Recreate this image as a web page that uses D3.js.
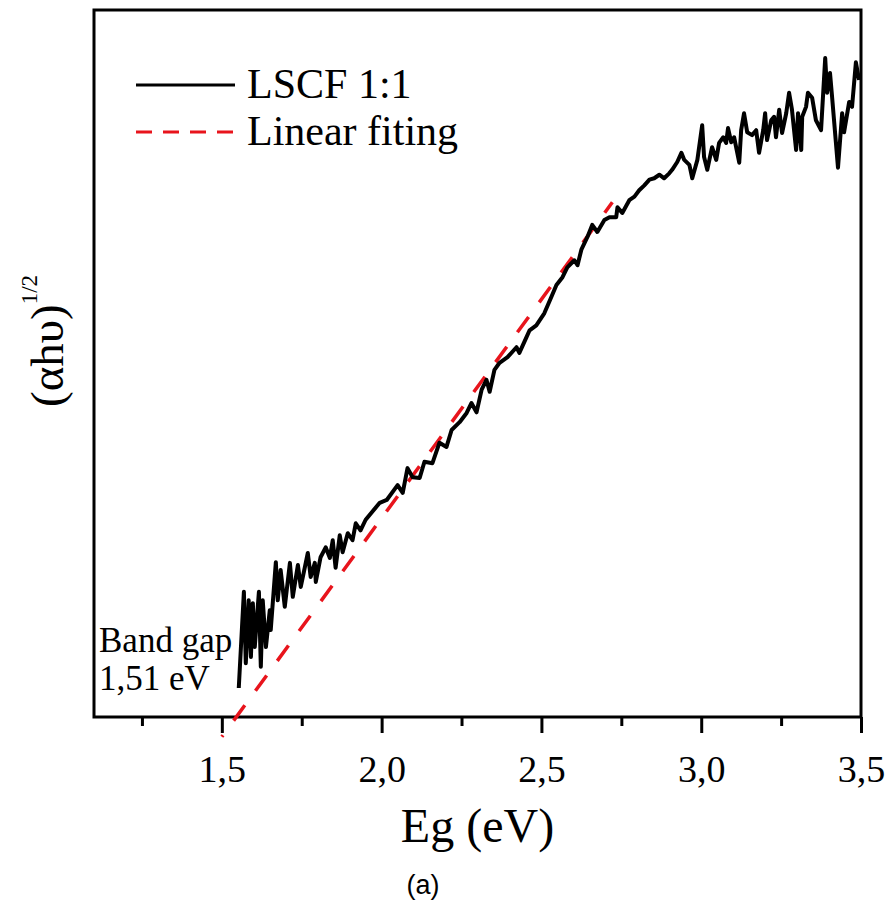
<!DOCTYPE html>
<html>
<head>
<meta charset="utf-8">
<script src="https://cdn.jsdelivr.net/npm/d3@7"></script>
<style>
  body { margin: 0; background: #fff; }
  text { font-family: "Liberation Serif", "Times New Roman", serif; fill: #000; }
</style>
</head>
<body>
<div id="chart"></div>
<script>
// photon energy (eV)
const eg = [1.553, 1.569, 1.575, 1.584, 1.591, 1.597, 1.603, 1.616, 1.622, 1.628,
  1.638, 1.650, 1.653, 1.669, 1.675, 1.684, 1.697, 1.713, 1.722, 1.738,
  1.747, 1.769, 1.778, 1.791, 1.794, 1.809, 1.825, 1.838, 1.847, 1.856,
  1.869, 1.878, 1.894, 1.909, 1.919, 1.934, 1.950,
  1.994, 2.016, 2.050, 2.066, 2.081, 2.097, 2.119, 2.134, 2.159, 2.181,
  2.203, 2.219, 2.244, 2.266, 2.281, 2.297, 2.313, 2.328, 2.338, 2.353,
  2.369, 2.394, 2.422, 2.431, 2.453,
  2.463, 2.484, 2.509, 2.531, 2.547, 2.566, 2.581, 2.603, 2.613, 2.625,
  2.644, 2.659, 2.675, 2.697, 2.713, 2.734, 2.738, 2.753, 2.775, 2.791,
  2.806, 2.822, 2.838, 2.853, 2.869, 2.884, 2.900,
  2.909, 2.925, 2.938, 2.947, 2.963, 2.972, 2.988, 3.003, 3.009, 3.019,
  3.034, 3.047, 3.056, 3.069, 3.078, 3.084, 3.094, 3.103, 3.119, 3.125,
  3.134, 3.144, 3.159, 3.172,
  3.181, 3.194, 3.200, 3.206, 3.219, 3.228, 3.234, 3.244, 3.253, 3.266,
  3.275, 3.284, 3.297, 3.303, 3.313, 3.316, 3.328, 3.334, 3.347, 3.359,
  3.375, 3.388, 3.394, 3.403, 3.409, 3.428, 3.441, 3.447, 3.463, 3.472,
  3.484, 3.494];

// (alpha h nu)^1/2, arbitrary units
const ahv = [4.1, 17.7, 7.6, 16.5, 8.5, 16.1, 9.9, 17.7, 7.1, 16.5,
  9.9, 15.1, 12.3, 21.9, 16.5, 20.8, 15.6, 21.8, 17.0, 21.5,
  18.4, 23.2, 19.8, 21.8, 19.1, 22.6, 24.0, 22.5, 25.0, 21.1,
  25.7, 23.3, 26.0, 25.0, 27.4, 26.4, 27.9,
  30.3, 30.7, 32.8, 31.7, 35.2, 33.9, 33.8, 36.1, 35.9, 38.8,
  38.2, 40.6, 41.7, 43.0, 44.4, 43.1, 46.3, 47.7, 46.0, 49.1,
  50.1, 50.9, 52.3, 51.5, 53.7,
  54.7, 55.4, 57.1, 59.4, 61.1, 62.2, 63.6, 64.6, 63.9, 66.1,
  67.9, 69.6, 68.6, 70.3, 70.7, 70.7, 72.1, 71.3, 73.1, 73.6,
  74.5, 75.2, 76.0, 76.2, 76.7, 76.2, 76.9,
  77.4, 78.5, 79.8, 78.8, 78.1, 76.2, 78.8, 83.7, 79.2, 77.4,
  80.6, 78.8, 81.2, 82.0, 81.2, 83.3, 81.3, 82.0, 78.4, 83.0,
  85.4, 82.7, 82.3, 83.0,
  79.8, 83.0, 85.4, 81.6, 84.4, 84.9, 82.0, 85.9, 82.6, 85.4,
  88.3, 85.9, 80.2, 85.4, 80.2, 84.9, 86.3, 88.3, 87.6, 84.4,
  83.0, 93.2, 88.3, 91.1, 88.0, 77.7, 85.4, 82.7, 87.0, 86.3,
  92.6, 90.1];

// linear fit end points
const fitEg = [1.50, 2.722];
const fitY = [-2.8, 72.8];

const majorTicks = [1.5, 2.0, 2.5, 3.0, 3.5];
const minorTicks = [1.25, 1.75, 2.25, 2.75, 3.25];

const seriesNames = ["LSCF 1:1", "Linear fiting"];
const gapLabel = ["Band gap", "1,51 eV"];

const width = 890, height = 907;
const plot = {left: 94, right: 861, top: 10, bottom: 717};

const x = d3.scaleLinear().domain([1.1, 3.5]).range([plot.left, plot.right]);
const y = d3.scaleLinear().domain([0, 100]).range([plot.bottom, plot.top]);

const svg = d3.select("#chart").append("svg")
    .attr("width", width)
    .attr("height", height);

// frame
svg.append("rect")
    .attr("x", plot.left).attr("y", plot.top)
    .attr("width", plot.right - plot.left)
    .attr("height", plot.bottom - plot.top)
    .style("fill", "none")
    .style("stroke", "#000")
    .style("stroke-width", 3);

// minor ticks
const minorAxis = svg.append("g")
    .attr("transform", "translate(0," + plot.bottom + ")")
    .call(d3.axisBottom(x).tickValues(minorTicks).tickSize(9).tickFormat(""));

// major ticks + labels
const xAxis = svg.append("g")
    .attr("transform", "translate(0," + plot.bottom + ")")
    .call(d3.axisBottom(x).tickValues(majorTicks).tickSize(16).tickPadding(22)
      .tickFormat(d => d3.format(".1f")(d).replace(".", ",")));

[minorAxis, xAxis].forEach(a => {
  a.select(".domain").remove();
  a.selectAll("line").style("stroke", "#000").style("stroke-width", 3);
});
xAxis.selectAll("text")
    .style("font-family", "'Liberation Serif', 'Times New Roman', serif")
    .style("font-size", "38px")
    .attr("dy", "0.71em");

// axis titles
svg.append("text")
    .attr("x", (plot.left + plot.right) / 2)
    .attr("y", 842)
    .style("text-anchor", "middle")
    .style("font-size", "48px")
    .text("Eg (eV)");

const yTitle = svg.append("text")
    .attr("transform", "translate(63,407) rotate(-90)")
    .style("font-size", "47px");
yTitle.append("tspan").text("(\u03b1h\u03c5)");
yTitle.append("tspan").attr("dy", -26).style("font-size", "23px").text("1/2");

// linear fitting (dashed red)
const fitLine = d3.line().x(d => x(d[0])).y(d => y(d[1]));
svg.append("path")
    .datum(d3.zip(fitEg, fitY))
    .attr("d", fitLine)
    .style("fill", "none")
    .style("stroke", "#e8141c")
    .style("stroke-width", 3.5)
    .style("stroke-dasharray", "19,18")
    .style("stroke-dashoffset", 17);

// measured curve
const curve = d3.line().x(d => x(d[0])).y(d => y(d[1]));
svg.append("path")
    .datum(d3.zip(eg, ahv))
    .attr("d", curve)
    .style("fill", "none")
    .style("stroke", "#000")
    .style("stroke-width", 4)
    .style("stroke-linejoin", "round");

// legend
const legend = svg.append("g");
legend.append("line")
    .attr("x1", 136).attr("x2", 235).attr("y1", 85).attr("y2", 85)
    .style("stroke", "#000").style("stroke-width", 3);
legend.append("line")
    .attr("x1", 136).attr("x2", 235).attr("y1", 132).attr("y2", 132)
    .style("stroke", "#e8141c").style("stroke-width", 3)
    .style("stroke-dasharray", "16,11");
legend.selectAll("text.leg")
    .data(seriesNames)
  .enter().append("text")
    .attr("class", "leg")
    .attr("x", 247)
    .attr("y", (d, i) => 98 + i * 47)
    .style("font-size", "42px")
    .text(d => d);

// band gap note
svg.selectAll("text.gap")
    .data(gapLabel)
  .enter().append("text")
    .attr("class", "gap")
    .attr("x", 99)
    .attr("y", (d, i) => 652 + i * 38)
    .style("font-size", "35px")
    .text(d => d);

// panel label
svg.append("text")
    .attr("x", 423)
    .attr("y", 894)
    .style("text-anchor", "middle")
    .style("font-family", "'Liberation Sans', Arial, sans-serif")
    .style("font-size", "27px")
    .text("(a)");
</script>
</body>
</html>
